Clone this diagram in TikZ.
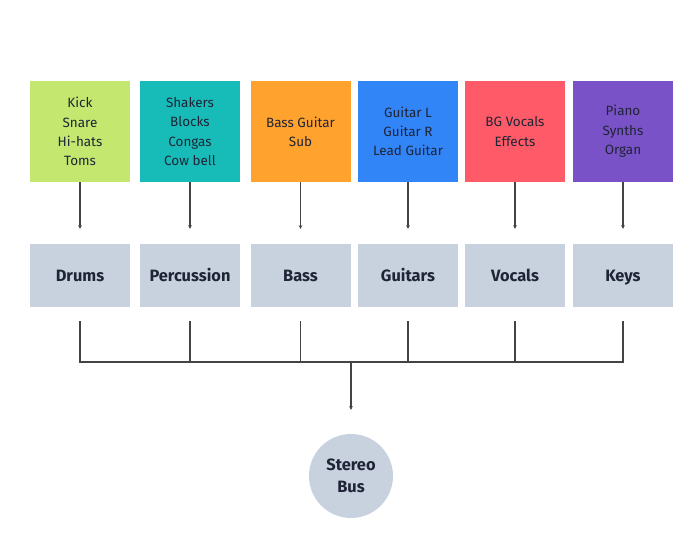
\documentclass[tikz,border=0pt]{standalone}
\usepackage{fontspec}
\setmainfont{Fira Sans}
\usepackage{xcolor}
\usetikzlibrary{arrows.meta}
\definecolor{MXLime}{HTML}{C4E86F}
\definecolor{MXTeal}{HTML}{17BCB9}
\definecolor{MXOrange}{HTML}{FFA32E}
\definecolor{MXBlue}{HTML}{3285F7}
\definecolor{MXRed}{HTML}{FF5A67}
\definecolor{MXPurple}{HTML}{7A52C8}
\definecolor{MXGrey}{HTML}{C8D2DF}
\definecolor{MXText}{HTML}{1F2436}
\definecolor{MXLine}{HTML}{444444}

\tikzset{
  srcbox/.style={minimum width=3cm,minimum height=3.03cm,inner sep=0pt,align=center,
    text=MXText,font=\fontsize{11.5}{16.5}\selectfont},
  grpbox/.style={fill=MXGrey,minimum width=3cm,minimum height=1.89cm,inner sep=0pt,
    text height=2ex,text depth=.2ex,
    text=MXText,font=\fontsize{14}{17}\selectfont\bfseries},
  busnode/.style={circle,fill=MXGrey,minimum size=2.52cm,inner sep=0pt,align=center,
    text=MXText,font=\fontsize{14}{19}\selectfont\bfseries},
  wire/.style={MXLine,line width=.9pt},
  feed/.style={wire,-{Stealth[length=3pt,width=3pt]},shorten >=4.5mm}
}

\begin{document}
\begin{tikzpicture}[x=1cm,y=1cm]
\path[use as bounding box] (0,0) rectangle (21,16.8);
\fill[white] (0,0) rectangle (21,16.8);
% source boxes
\node[srcbox,fill=MXLime]   (kit)   at (2.40,12.855)  {Kick\\Snare\\Hi-hats\\Toms};
\node[srcbox,fill=MXTeal]   (perc)  at (5.70,12.855)  {Shakers\\Blocks\\Congas\\Cow bell};
\node[srcbox,fill=MXOrange] (low)   at (9.015,12.855) {Bass Guitar\\Sub};
\node[srcbox,fill=MXBlue]   (gtr)   at (12.24,12.855) {Guitar L\\Guitar R\\Lead Guitar};
\node[srcbox,fill=MXRed]    (vox)   at (15.45,12.855) {BG Vocals\\Effects};
\node[srcbox,fill=MXPurple] (keyb)  at (18.69,12.855) {Piano\\Synths\\Organ};
% group boxes
\node[grpbox] (drums)  at (2.40,8.535)  {Drums};
\node[grpbox] (percg)  at (5.70,8.535)  {Percussion};
\node[grpbox] (bass)   at (9.015,8.535) {Bass};
\node[grpbox] (guit)   at (12.24,8.535) {Guitars};
\node[grpbox] (vocals) at (15.45,8.535) {Vocals};
\node[grpbox] (keys)   at (18.69,8.535) {Keys};
% bus
\node[busnode] (bus) at (10.53,2.52) {Stereo\\Bus};
\coordinate (join) at (10.53,5.94);
% feeds
\draw[feed] (kit.south)  -- (drums.north);
\draw[feed] (perc.south) -- (percg.north);
\draw[feed] (low.south)  -- (bass.north);
\draw[feed] (gtr.south)  -- (guit.north);
\draw[feed] (vox.south)  -- (vocals.north);
\draw[feed] (keyb.south) -- (keys.north);
% summing line
\draw[wire] ([yshift=-4.2mm]drums.south) |- (join) -| ([yshift=-4.2mm]keys.south);
\draw[wire] ([yshift=-4.2mm]percg.south)  -- (percg.south |- join);
\draw[wire] ([yshift=-4.2mm]bass.south)   -- (bass.south |- join);
\draw[wire] ([yshift=-4.2mm]guit.south)   -- (guit.south |- join);
\draw[wire] ([yshift=-4.2mm]vocals.south) -- (vocals.south |- join);
\draw[wire,-{Stealth[length=3pt,width=3pt]},shorten >=7.2mm] (join) -- (bus.north);
\end{tikzpicture}
\end{document}
